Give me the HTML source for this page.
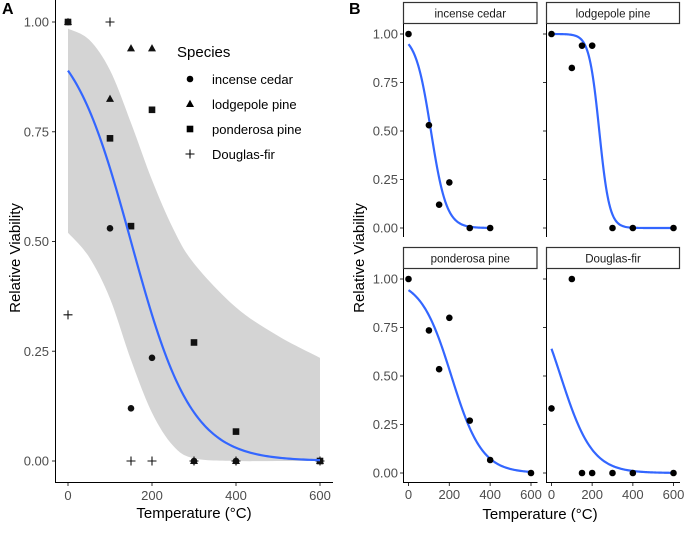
<!DOCTYPE html>
<html><head><meta charset="utf-8"><style>
body{margin:0;background:#fff}
svg{display:block;font-family:"Liberation Sans",sans-serif}
text{font-family:"Liberation Sans",sans-serif}
</style></head><body>
<svg id="c" width="685" height="541" viewBox="0 0 685 541" xmlns="http://www.w3.org/2000/svg"></svg>
<script>
const species = ["incense cedar","lodgepole pine","ponderosa pine","Douglas-fir"];
const temps = [0,100,150,200,300,400,600];
const cedarVals = [1,0.53,0.12,0.235,0,0,null];
const lodgeVals = [1,0.825,0.94,0.94,0,0,0];
const pondVals = [1,0.735,0.535,0.80,0.27,0.067,0];
const dougVals = [0.333,1,0,0,0,0,0];
const fitMid = [110,235,210,45];
const fitScale = [38,25,75,78];
const fitMax = [400,600,600,600];
const pooledMid = 150, pooledScale = 72;
const bandX = [0,50,100,150,200,250,300,400,500,600];
const bandUpper = [0.985,0.96,0.89,0.77,0.64,0.53,0.45,0.35,0.285,0.235];
const bandLower = [0.52,0.465,0.37,0.23,0.11,0.035,0.006,0,0,0];
const yTicks = [0,0.25,0.5,0.75,1];
const yTickLabels = ["0.00","0.25","0.50","0.75","1.00"];
const xTicks = [0,200,400,600];
const allVals = [cedarVals,lodgeVals,pondVals,dougVals];

const NS="http://www.w3.org/2000/svg";
const svg=document.getElementById('c');
function mk(tag,attrs,parent,text){const e=document.createElementNS(NS,tag);for(const k in attrs)e.setAttribute(k,attrs[k]);if(text!==undefined)e.textContent=text;(parent||svg).appendChild(e);return e;}
const logistic=(x,m,s)=>1/(1+Math.exp((x-m)/s));
function smooth(P,start){ // Catmull-Rom through points
 let d=start?('M'+P[0][0]+','+P[0][1]):(' L'+P[0][0]+','+P[0][1]);
 for(let i=0;i<P.length-1;i++){const p0=P[Math.max(0,i-1)],p1=P[i],p2=P[i+1],p3=P[Math.min(P.length-1,i+2)];
  const c1=[p1[0]+(p2[0]-p0[0])/6,p1[1]+(p2[1]-p0[1])/6],c2=[p2[0]-(p3[0]-p1[0])/6,p2[1]-(p3[1]-p1[1])/6];
  d+=` C${c1[0]},${c1[1]} ${c2[0]},${c2[1]} ${p2[0]},${p2[1]}`;}
 return d;}

// ---------- Panel A ----------
const ax=v=>68+v*(320-68)/600, ay=v=>461-v*439;
const gA=mk('g',{});


const up=bandX.map((x,i)=>[ax(x),ay(bandUpper[i])]);
const lo=bandX.map((x,i)=>[ax(x),ay(bandLower[i])]).reverse();
const band=mk('path',{d:smooth(up,true)+smooth(lo,false)+'Z',fill:'#d4d4d4'},gA);


mk('line',{x1:55.5,y1:0,x2:55.5,y2:482.5,stroke:'#000','stroke-width':1},gA);
mk('line',{x1:55,y1:482.5,x2:333,y2:482.5,stroke:'#000','stroke-width':1},gA);
yTicks.forEach((t,i)=>{mk('line',{x1:52,x2:55,y1:ay(t),y2:ay(t),stroke:'#333'},gA);
 const tl=mk('text',{x:49,y:ay(t)+4.5,'text-anchor':'end','font-size':13,fill:'#4d4d4d'},gA,yTickLabels[i]);
 });
xTicks.forEach(t=>{mk('line',{x1:ax(t),x2:ax(t),y1:483,y2:486,stroke:'#333'},gA);
 const tl=mk('text',{x:ax(t),y:500,'text-anchor':'middle','font-size':13,fill:'#4d4d4d'},gA,String(t));
 });
function shape(kind,x,y,p,col){
 if(kind===0)return mk('circle',{cx:x,cy:y,r:3.3,fill:col},p);
 if(kind===1)return mk('path',{d:`M${x},${y-4.2}L${x+4},${y+3}L${x-4},${y+3}Z`,fill:col},p);
 if(kind===2)return mk('rect',{x:x-3.3,y:y-3.3,width:6.6,height:6.6,fill:col},p);
 return mk('path',{d:`M${x-4.5},${y}H${x+4.5}M${x},${y-4.5}V${y+4.5}`,stroke:col,'stroke-width':1.1,fill:'none'},p);
}
allVals.forEach((vals,s)=>vals.forEach((v,i)=>{if(v===null)return;
 const p=shape(s,ax(temps[i]),ay(v),gA,'#111');
 }));
let pts=[];for(let x=0;x<=600;x+=5)pts.push(ax(x)+','+ay(logistic(x,pooledMid,pooledScale)));
const fa=mk('polyline',{points:pts.join(' '),fill:'none',stroke:'#3366ff','stroke-width':2.2},gA);

mk('text',{x:2,y:14,'font-size':16,'font-weight':'bold'},gA,'A');
const yt=mk('text',{transform:'translate(20,258) rotate(-90)','text-anchor':'middle','font-size':15},gA,'Relative Viability');

const xt=mk('text',{x:194,y:518,'text-anchor':'middle','font-size':15},gA,'Temperature (°C)');

const lg=mk('g',{},gA);

mk('text',{x:177,y:57,'font-size':15},lg,'Species');
species.forEach((sp,i)=>{const y=79+i*25;shape(i,190,y,lg,'#000');
 const t=mk('text',{x:212,y:y+5,'font-size':13},lg,sp);
 });

// ---------- Panel B ----------
mk('text',{x:349,y:14,'font-size':16,'font-weight':'bold'},null,'B');
const yt2=mk('text',{transform:'translate(364,258) rotate(-90)','text-anchor':'middle','font-size':15},null,'Relative Viability');

const xt2=mk('text',{x:540,y:519,'text-anchor':'middle','font-size':15},null,'Temperature (°C)');

const facets=[{x0:408.5,x1:531,top:34,bot:228,sy:2},{x0:551.5,x1:673.5,top:34,bot:228,sy:2},
 {x0:408.5,x1:531,top:279,bot:473,sy:247},{x0:551.5,x1:673.5,top:279,bot:473,sy:247}];
facets.forEach((f,s)=>{
 const g=mk('g',{});
 
 const fx=v=>f.x0+v*(f.x1-f.x0)/600, fy=v=>f.bot-v*(f.bot-f.top);
 const L=f.x0-5.5, R=f.x1+6.5;
 const st=mk('rect',{x:L+0.5,y:f.sy+0.5,width:R-L-1,height:21,fill:'#fff',stroke:'#333','stroke-width':1.2},g);
 
 const stt=mk('text',{x:(L+R)/2,y:f.sy+15.5,'text-anchor':'middle','font-size':11.5,fill:'#1a1a1a','font-family':'Liberation Sans, sans-serif'},g,species[s]);
 
 const axBot=f.bot+9;
 mk('line',{x1:L+0.5,x2:L+0.5,y1:f.sy+22,y2:axBot,stroke:'#000'},g);
 if(s>=2) mk('line',{x1:L,x2:R,y1:axBot+0.5,y2:axBot+0.5,stroke:'#000'},g);
 if(s%2===0) yTicks.forEach((t,i)=>{mk('line',{x1:L-3,x2:L,y1:fy(t),y2:fy(t),stroke:'#333'},g);
   mk('text',{x:L-5,y:fy(t)+4.5,'text-anchor':'end','font-size':13,fill:'#4d4d4d'},g,yTickLabels[i]);});
 else yTicks.forEach(t=>mk('line',{x1:L-3,x2:L,y1:fy(t),y2:fy(t),stroke:'#333'},g));
 if(s>=2) xTicks.forEach(t=>{mk('line',{x1:fx(t),x2:fx(t),y1:axBot+1,y2:axBot+4,stroke:'#333'},g);
   mk('text',{x:fx(t),y:axBot+17,'text-anchor':'middle','font-size':13,fill:'#4d4d4d'},g,String(t));});
 let p=[];for(let x=0;x<=fitMax[s];x+=4)p.push(fx(x)+','+fy(logistic(x,fitMid[s],fitScale[s])));
 const fl=mk('polyline',{points:p.join(' '),fill:'none',stroke:'#3366ff','stroke-width':2.2},g);
 
 allVals[s].forEach((v,i)=>{if(v===null)return;
  const c=mk('circle',{cx:fx(temps[i]),cy:fy(v),r:3.3,fill:'#000'},g);
  });
});
</script>
</body></html>
